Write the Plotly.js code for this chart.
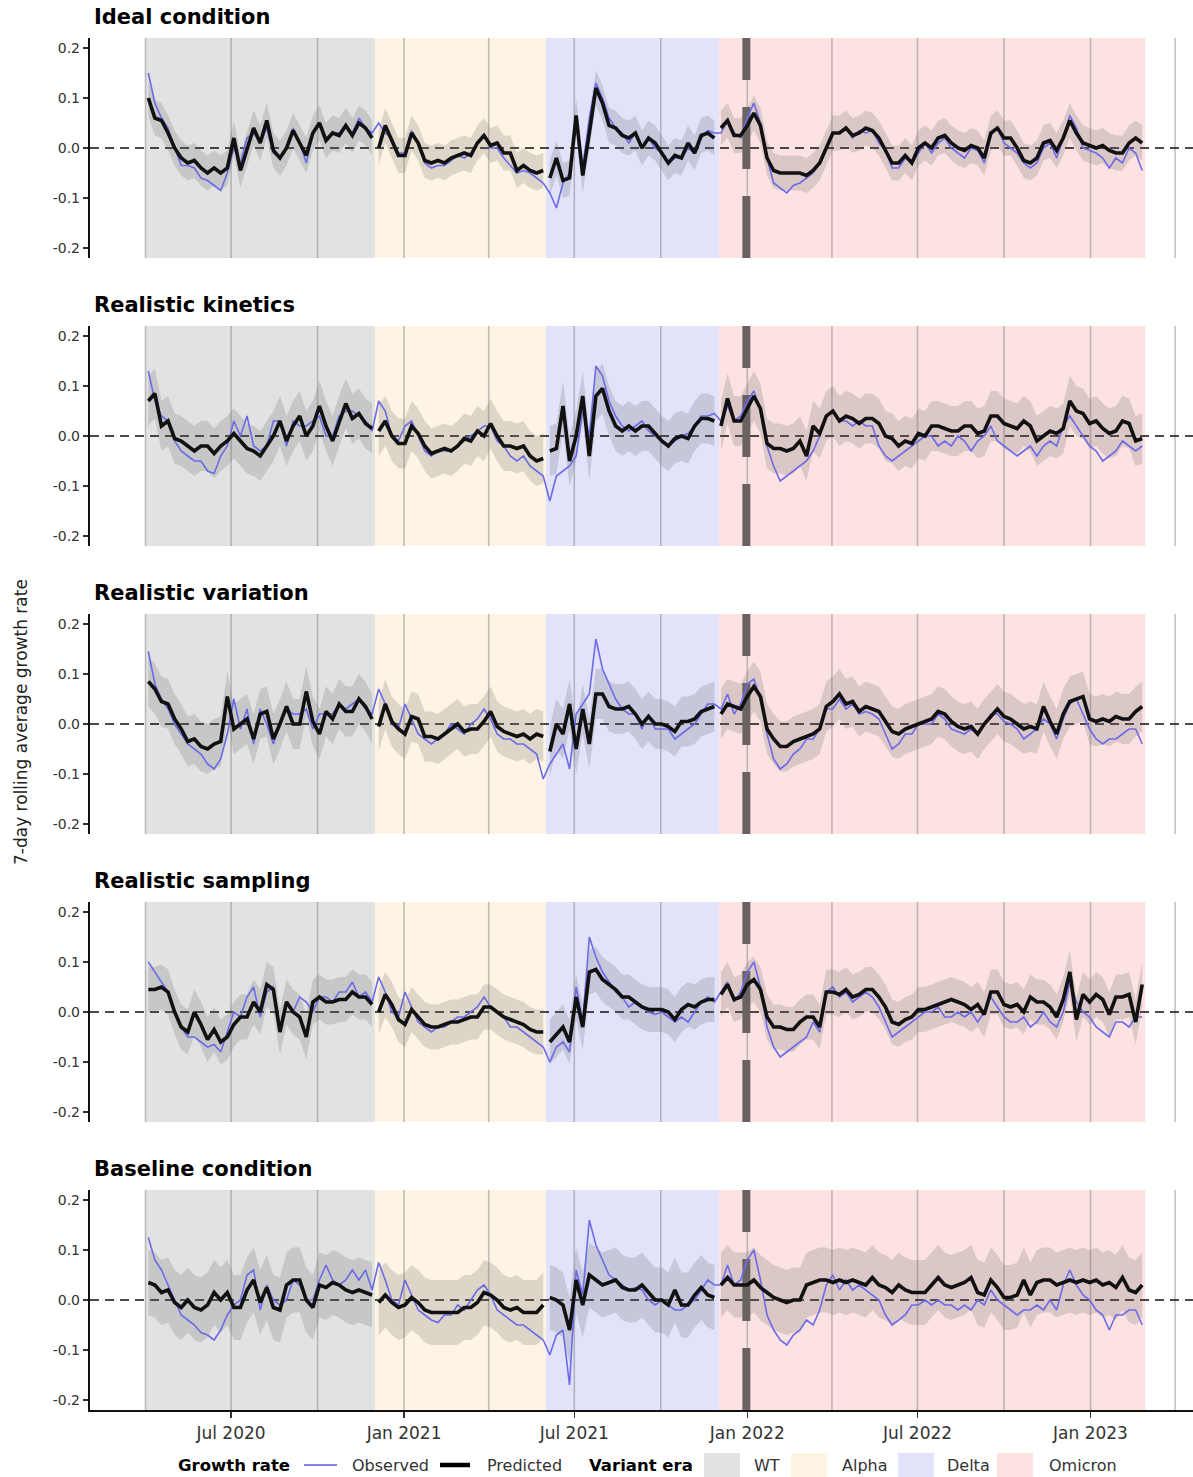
<!DOCTYPE html>
<html><head><meta charset="utf-8">
<script src="https://cdn.plot.ly/plotly-3.0.1.min.js"></script>
<style>html,body{margin:0;padding:0;background:#fff}#chart{width:1193px;height:1477px}</style>
</head><body><div id="chart"></div>
<script>
// ---------------- DATA ----------------
const startDate = '2020-04-04';   // first weekly sample
const stepDays = 7;

const panelTitles = ['Ideal condition', 'Realistic kinetics', 'Realistic variation', 'Realistic sampling', 'Baseline condition'];

const obsIdeal = [0.15,0.09,0.06,0.04,0.0,-0.035,-0.035,-0.04,-0.06,-0.065,
 -0.075,-0.085,-0.05,0.0,-0.03,0.02,0.03,0.01,0.04,-0.01,
 -0.02,0.0,0.04,0.01,-0.03,0.03,0.045,0.02,0.03,0.03,
 0.045,0.03,0.06,0.04,0.03,0.05,0.03,0.02,-0.01,-0.01,
 0.035,0.01,-0.03,-0.04,-0.035,-0.035,-0.025,-0.015,-0.02,-0.01,
 0.01,0.025,0.0,0.0,-0.02,-0.035,-0.05,-0.045,-0.05,-0.06,
 -0.07,-0.09,-0.12,-0.07,-0.05,0.05,-0.04,0.06,0.13,0.10,
 0.06,0.04,0.03,0.01,0.03,0.0,0.02,0.0,-0.01,-0.03,
 -0.02,-0.02,0.0,-0.01,0.02,0.035,0.03,0.03,0.055,0.03,
 0.02,0.06,0.09,0.05,-0.02,-0.07,-0.08,-0.09,-0.075,-0.07,
 -0.06,-0.05,-0.03,0.0,0.03,0.03,0.04,0.02,0.035,0.03,
 0.035,0.01,-0.005,-0.04,-0.04,-0.02,-0.03,-0.01,0.01,-0.01,
 0.01,0.02,0.0,-0.01,-0.02,0.0,-0.005,-0.03,0.025,0.04,
 0.01,0.0,-0.01,-0.03,-0.04,-0.03,0.0,0.01,-0.02,0.02,
 0.065,0.04,0.0,-0.005,-0.01,-0.02,-0.04,-0.02,-0.03,0.0,
 -0.01,-0.045];
const predIdeal = [0.10,0.06,0.055,0.03,0.0,-0.02,-0.03,-0.025,-0.04,-0.05,
 -0.04,-0.05,-0.04,0.02,-0.045,0.0,0.04,0.01,0.055,-0.005,
 -0.02,0.0,0.035,0.01,-0.015,0.03,0.05,0.015,0.03,0.025,
 0.045,0.025,0.05,0.04,0.02,0.0,0.045,0.015,-0.015,-0.015,
 0.03,0.01,-0.025,-0.03,-0.025,-0.03,-0.02,-0.015,-0.01,-0.015,
 0.01,0.025,0.005,0.01,-0.01,-0.01,-0.045,-0.035,-0.045,-0.05,
 -0.045,-0.06,-0.02,-0.065,-0.06,0.065,-0.055,0.03,0.12,0.09,
 0.045,0.04,0.025,0.02,0.03,0.0,0.02,0.01,-0.01,-0.03,
 -0.015,-0.02,0.01,-0.01,0.025,0.03,0.02,0.04,0.055,0.025,
 0.025,0.045,0.07,0.045,-0.02,-0.045,-0.05,-0.05,-0.05,-0.05,
 -0.055,-0.045,-0.03,0.0,0.03,0.03,0.04,0.025,0.03,0.04,
 0.035,0.02,-0.005,-0.03,-0.03,-0.015,-0.03,0.0,0.01,0.0,
 0.02,0.025,0.01,0.0,-0.005,0.005,0.0,-0.02,0.03,0.04,
 0.02,0.02,0.0,-0.025,-0.03,-0.02,0.01,0.015,-0.005,0.02,
 0.055,0.03,0.01,0.005,0.0,0.005,-0.005,-0.01,-0.01,0.01,
 0.02,0.01];

const obsKinetics = [0.13,0.07,0.04,0.03,-0.01,-0.03,-0.04,-0.05,-0.05,-0.07,
 -0.075,-0.04,-0.02,0.03,0.0,0.04,-0.02,-0.03,-0.02,0.03,
 0.03,-0.02,0.03,0.02,0.02,0.03,0.04,0.0,0.0,0.04,
 0.05,0.05,0.04,0.03,0.01,0.07,0.05,0.0,-0.01,0.02,
 0.03,0.0,-0.03,-0.04,-0.03,-0.03,-0.03,-0.02,-0.01,0.0,
 0.01,0.02,0.02,-0.01,-0.02,-0.04,-0.05,-0.04,-0.06,-0.07,
 -0.08,-0.13,-0.08,-0.07,-0.06,-0.04,0.05,0.0,0.14,0.12,
 0.07,0.04,0.02,0.01,0.02,0.03,0.01,0.0,-0.01,-0.02,
 -0.01,0.0,0.005,0.02,0.04,0.04,0.045,0.03,0.06,0.03,
 0.04,0.07,0.09,0.05,-0.02,-0.06,-0.09,-0.08,-0.07,-0.06,
 -0.05,-0.03,0.0,0.04,0.05,0.03,0.03,0.02,0.03,0.02,
 0.02,-0.02,-0.04,-0.05,-0.04,-0.03,-0.02,-0.01,0.0,0.0,
 -0.02,-0.01,-0.02,0.0,-0.01,-0.03,-0.01,0.0,0.02,-0.01,
 -0.02,-0.03,-0.04,-0.03,-0.02,-0.04,-0.02,-0.01,-0.02,0.02,
 0.04,0.02,0.0,-0.02,-0.03,-0.05,-0.04,-0.03,-0.01,-0.02,
 -0.03,-0.02];
const predKinetics = [0.07,0.085,0.02,0.03,-0.005,-0.01,-0.02,-0.03,-0.02,-0.02,
 -0.035,-0.02,-0.01,0.005,-0.01,-0.025,-0.03,-0.04,-0.02,0.0,
 0.03,-0.01,0.02,0.04,0.0,0.02,0.06,0.02,-0.01,0.03,
 0.065,0.035,0.045,0.025,0.015,0.01,0.03,0.0,-0.015,-0.015,
 0.02,0.005,-0.02,-0.035,-0.03,-0.025,-0.03,-0.02,-0.005,-0.01,
 0.01,0.0,0.025,0.0,-0.02,-0.02,-0.025,-0.02,-0.04,-0.05,
 -0.045,-0.03,-0.025,0.06,-0.05,0.0,0.08,-0.04,0.08,0.095,
 0.05,0.02,0.01,0.02,0.01,0.02,0.02,0.005,-0.01,-0.02,
 -0.005,0.0,-0.005,0.02,0.035,0.035,0.03,0.02,0.075,0.03,
 0.03,0.055,0.08,0.055,-0.015,-0.025,-0.025,-0.03,-0.025,-0.01,
 -0.04,0.02,0.005,0.04,0.05,0.03,0.04,0.035,0.025,0.035,
 0.035,0.025,0.0,-0.005,-0.02,-0.01,-0.015,0.005,0.0,0.02,
 0.02,0.015,0.01,0.01,0.02,0.02,0.005,0.01,0.04,0.04,
 0.025,0.02,0.015,0.03,0.02,-0.01,0.0,0.01,0.005,0.015,
 0.07,0.05,0.045,0.025,0.03,0.015,0.005,0.01,0.03,0.025,
 -0.01,-0.005];

const obsVariation = [0.145,0.08,0.05,0.03,0.0,-0.02,-0.04,-0.05,-0.06,-0.08,
 -0.09,-0.07,-0.02,0.05,-0.01,0.03,-0.04,0.03,0.0,-0.04,
 0.0,0.03,0.02,0.02,0.03,-0.01,0.02,0.02,0.02,0.04,
 0.03,0.04,0.05,0.03,0.02,0.07,0.04,0.0,-0.01,0.04,
 0.01,-0.02,-0.03,-0.04,-0.03,-0.02,0.0,-0.01,-0.02,0.0,
 0.01,0.03,0.01,-0.02,-0.03,-0.03,-0.04,-0.04,-0.05,-0.06,
 -0.11,-0.08,-0.06,-0.04,-0.09,0.02,0.04,0.06,0.17,0.11,
 0.08,0.05,0.03,0.02,0.02,-0.01,0.02,-0.01,-0.01,-0.01,
 -0.03,-0.02,-0.01,0.0,0.02,0.04,0.04,0.03,0.06,0.02,
 0.04,0.08,0.09,0.05,-0.02,-0.07,-0.09,-0.08,-0.06,-0.05,
 -0.03,-0.03,-0.01,0.03,0.03,0.05,0.03,0.04,0.02,0.025,
 0.02,0.01,-0.02,-0.05,-0.04,-0.02,-0.02,0.0,0.0,0.0,
 0.02,0.01,-0.01,-0.015,-0.02,-0.01,-0.02,0.0,0.02,0.02,
 0.005,0.0,-0.01,-0.03,-0.02,-0.01,0.01,0.0,-0.03,0.01,
 0.04,0.05,0.02,-0.01,-0.03,-0.04,-0.03,-0.03,-0.02,-0.01,
 -0.01,-0.04];
const predVariation = [0.085,0.07,0.045,0.04,0.01,-0.01,-0.035,-0.03,-0.045,-0.05,
 -0.04,-0.035,0.055,-0.01,0.0,0.01,-0.03,0.02,0.025,-0.03,
 0.0,0.035,0.0,0.0,0.065,0.005,-0.02,0.025,0.01,0.04,
 0.025,0.025,0.05,0.035,0.01,-0.005,0.04,0.005,-0.01,-0.02,
 0.015,0.01,-0.025,-0.025,-0.03,-0.02,-0.01,0.0,-0.015,-0.01,
 -0.01,0.005,0.025,-0.005,-0.015,-0.02,-0.025,-0.02,-0.03,-0.02,
 -0.025,-0.055,0.0,-0.02,0.04,-0.05,0.03,-0.04,0.06,0.06,
 0.035,0.03,0.03,0.035,0.02,0.0,0.015,0.0,0.0,-0.005,
 -0.015,0.005,0.005,0.01,0.025,0.03,0.035,0.02,0.04,0.035,
 0.03,0.055,0.075,0.055,-0.01,-0.03,-0.045,-0.045,-0.035,-0.03,
 -0.025,-0.02,-0.01,0.035,0.045,0.06,0.04,0.045,0.025,0.035,
 0.03,0.025,0.005,-0.015,-0.02,-0.01,-0.005,0.0,0.005,0.01,
 0.025,0.02,0.005,-0.005,-0.01,-0.005,-0.02,0.0,0.015,0.03,
 0.015,0.01,0.0,-0.01,-0.005,-0.01,0.035,0.005,-0.02,0.02,
 0.045,0.05,0.055,0.01,0.005,0.01,0.005,0.015,0.01,0.01,
 0.025,0.035];

const obsSampling = [0.10,0.08,0.06,0.04,0.0,-0.03,-0.05,-0.05,-0.06,-0.07,
 -0.065,-0.08,-0.04,0.0,-0.01,0.03,0.05,-0.01,0.04,0.05,
 -0.03,0.02,0.0,0.03,0.02,0.0,0.03,0.03,0.02,0.04,
 0.04,0.06,0.03,0.04,0.02,0.07,0.04,0.0,-0.01,0.04,
 0.01,-0.02,-0.03,-0.04,-0.03,-0.03,-0.02,-0.01,-0.01,0.0,
 0.01,0.03,0.01,0.0,-0.01,-0.03,-0.03,-0.04,-0.05,-0.06,
 -0.07,-0.1,-0.07,-0.06,-0.08,0.05,-0.02,0.15,0.11,0.08,
 0.06,0.04,0.03,0.01,0.02,0.01,0.0,-0.005,0.0,-0.01,
 -0.02,-0.01,-0.02,0.0,0.02,0.03,0.02,0.04,0.06,0.02,
 0.04,0.08,0.1,0.05,-0.03,-0.07,-0.09,-0.08,-0.07,-0.06,
 -0.05,-0.02,-0.04,0.04,0.05,0.03,0.04,0.02,0.03,0.04,
 0.03,0.01,-0.02,-0.05,-0.04,-0.03,-0.02,-0.01,0.0,0.0,
 0.01,-0.01,-0.01,0.0,-0.01,0.0,-0.02,0.0,0.03,0.01,
 -0.01,-0.02,-0.02,-0.01,-0.03,-0.02,0.0,-0.02,-0.03,0.0,
 0.06,0.02,0.0,-0.01,-0.03,-0.04,-0.05,-0.02,-0.02,-0.03,
 -0.01,-0.01];
const predSampling = [0.045,0.045,0.05,0.04,0.0,-0.03,-0.04,0.0,-0.025,-0.055,
 -0.035,-0.06,-0.05,-0.025,-0.01,-0.01,0.02,0.0,0.055,0.045,
 -0.04,0.02,0.0,-0.01,-0.05,0.02,0.03,0.02,0.02,0.025,
 0.025,0.04,0.03,0.03,0.015,0.0,0.035,0.015,-0.015,-0.025,
 0.005,-0.01,-0.025,-0.03,-0.03,-0.025,-0.02,-0.02,-0.015,-0.01,
 -0.01,0.01,0.01,0.0,-0.01,-0.015,-0.02,-0.025,-0.035,-0.04,
 -0.04,-0.06,-0.045,-0.03,-0.06,0.03,-0.03,0.08,0.085,0.065,
 0.055,0.045,0.03,0.03,0.02,0.01,0.005,0.005,0.005,0.0,
 -0.015,0.005,0.015,0.01,0.02,0.025,0.025,0.035,0.055,0.025,
 0.03,0.055,0.065,0.045,-0.01,-0.03,-0.03,-0.035,-0.035,-0.02,
 -0.01,-0.01,-0.03,0.04,0.04,0.035,0.045,0.03,0.035,0.045,
 0.045,0.03,0.01,-0.02,-0.025,-0.015,-0.01,0.005,0.005,0.01,
 0.015,0.02,0.025,0.02,0.015,0.005,0.015,-0.005,0.04,0.04,
 0.015,0.01,0.015,0.0,0.03,0.02,0.02,0.01,-0.01,0.025,
 0.08,-0.015,0.035,0.02,0.035,0.025,-0.005,0.03,0.03,0.035,
 -0.02,0.055];

const obsBaseline = [0.125,0.08,0.06,0.03,0.0,-0.03,-0.04,-0.05,-0.065,-0.07,
 -0.08,-0.06,-0.03,-0.01,0.0,0.05,0.06,-0.02,0.03,0.0,
 -0.01,0.0,0.04,0.03,0.0,0.0,0.04,0.07,0.04,0.03,
 0.04,0.06,0.04,0.06,0.02,0.075,0.04,0.0,-0.01,0.04,
 0.01,-0.02,-0.03,-0.04,-0.045,-0.03,-0.03,-0.01,-0.02,0.0,
 0.02,0.03,0.01,-0.02,-0.03,-0.04,-0.05,-0.05,-0.06,-0.07,
 -0.08,-0.11,-0.07,-0.06,-0.17,0.06,0.01,0.16,0.11,0.08,
 0.05,0.04,0.03,0.02,0.025,0.02,0.0,-0.01,0.0,-0.01,
 -0.02,-0.02,-0.01,0.0,0.02,0.04,0.03,0.03,0.07,0.03,
 0.04,0.08,0.1,0.04,-0.03,-0.06,-0.08,-0.09,-0.07,-0.06,
 -0.04,-0.05,-0.02,0.03,0.05,0.02,0.04,0.02,0.03,0.02,
 0.01,0.0,-0.03,-0.05,-0.04,-0.03,-0.01,-0.01,0.0,-0.01,
 0.0,-0.01,-0.01,-0.02,-0.01,-0.02,0.0,-0.01,0.02,0.0,
 -0.01,-0.02,-0.03,-0.02,-0.02,-0.01,-0.02,0.0,-0.02,0.03,
 0.06,0.03,0.01,0.0,-0.02,-0.03,-0.06,-0.03,-0.03,-0.02,
 -0.02,-0.05];
const predBaseline = [0.035,0.03,0.015,0.02,-0.005,-0.015,0.0,-0.015,-0.02,-0.01,
 0.015,0.0,0.015,-0.015,-0.015,0.02,0.04,-0.005,0.025,-0.015,
 -0.02,0.03,0.04,0.04,0.0,-0.015,0.03,0.025,0.035,0.03,
 0.02,0.015,0.02,0.015,0.01,-0.005,0.01,-0.005,-0.015,-0.01,
 0.005,-0.005,-0.02,-0.025,-0.025,-0.025,-0.025,-0.025,-0.015,-0.015,
 -0.005,0.015,0.01,0.0,-0.015,-0.02,-0.015,-0.025,-0.025,-0.025,
 -0.01,0.005,0.0,-0.01,-0.06,0.04,-0.01,0.05,0.04,0.03,
 0.035,0.04,0.025,0.02,0.02,0.03,0.015,0.0,0.0,-0.01,
 0.02,-0.01,-0.01,0.01,0.025,0.01,0.005,0.03,0.045,0.03,
 0.03,0.03,0.04,0.025,0.015,0.005,0.0,-0.005,0.0,0.0,
 0.03,0.035,0.04,0.04,0.035,0.04,0.035,0.04,0.035,0.03,
 0.045,0.03,0.025,0.015,0.03,0.02,0.015,0.015,0.015,0.03,
 0.045,0.03,0.025,0.03,0.035,0.045,0.015,0.01,0.04,0.025,
 0.005,0.005,0.01,0.04,0.01,0.035,0.04,0.04,0.03,0.035,
 0.04,0.035,0.04,0.035,0.04,0.03,0.035,0.025,0.045,0.02,
 0.015,0.03];

const ribbonHalfWidth = [0.035, 0.05, 0.05, 0.045, 0.065];

const eraNames  = ['WT', 'Alpha', 'Delta', 'Omicron'];
const eraStarts = ['2020-04-01', '2020-12-01', '2021-06-01', '2021-12-02'];
const eraEnds   = ['2020-12-01', '2021-06-01', '2021-12-02', '2023-02-28'];
const eraColors = ['#e2e2e2', '#fdf4e3', '#e2e2fb', '#fde2e2'];

const quarterLines = ['2020-04-01','2020-07-01','2020-10-01','2021-01-01','2021-04-01','2021-07-01',
  '2021-10-01','2022-01-01','2022-04-01','2022-07-01','2022-10-01','2023-01-01','2023-04-01'];
const omicronMarker = '2021-12-31';

const xTickVals = ['2020-07-01','2021-01-01','2021-07-01','2022-01-01','2022-07-01','2023-01-01'];
const xTickText = ['Jul 2020','Jan 2021','Jul 2021','Jan 2022','Jul 2022','Jan 2023'];
const yTickVals = [-0.2, -0.1, 0, 0.1, 0.2];
const yTickText = ['-0.2', '-0.1', '0.0', '0.1', '0.2'];

const legendGrowthLabels = ['Observed', 'Predicted'];

// ---------------- BUILD ----------------
const obsSeries  = [obsIdeal, obsKinetics, obsVariation, obsSampling, obsBaseline];
const predSeries = [predIdeal, predKinetics, predVariation, predSampling, predBaseline];

function makeDates(n) {
  const p = startDate.split('-').map(Number);
  const t0 = Date.UTC(p[0], p[1] - 1, p[2]);
  const out = [];
  for (let i = 0; i < n; i++) out.push(new Date(t0 + i * stepDays * 86400000).toISOString().slice(0, 10));
  return out;
}
function eraOf(d) {
  for (let e = eraStarts.length - 1; e >= 0; e--) if (d >= eraStarts[e]) return e;
  return 0;
}

const W = 1193, H = 1477, L = 90;
const PW = W - L;
const panelTop0 = 38, panelH = 220, panelStep = 288;
const py = px => 1 - px / H;          // pixel row -> paper y
const pxX = px => (px - L) / PW;      // pixel column -> paper x

const FONT = 'DejaVu Sans, Liberation Sans, Arial, sans-serif';
const OBS_COLOR = '#6b6be8';
const PRED_COLOR = '#111111';
const RIBBON = 'rgba(105,105,105,0.22)';

const traces = [], shapes = [], annotations = [];
const layout = {
  width: W, height: H,
  margin: {l: L, r: 0, t: 0, b: 0},
  paper_bgcolor: '#ffffff', plot_bgcolor: 'rgba(0,0,0,0)',
  showlegend: false,
  font: {family: FONT, color: '#333'},
  xaxis: {
    type: 'date', range: ['2020-02-02', '2023-04-20'], domain: [0, 1], anchor: 'y5',
    tickvals: xTickVals, ticktext: xTickText, ticks: 'outside', ticklen: 6, tickwidth: 1.5, tickcolor: '#333',
    showline: true, linecolor: '#111', linewidth: 2.2, showgrid: false, zeroline: false,
    tickfont: {family: FONT, size: 17, color: '#333'}, automargin: false
  }
};

const dates = makeDates(obsSeries[0].length);

predSeries.forEach((pred, i) => {
  const yName = i === 0 ? 'y' : 'y' + (i + 1);
  const yKey = i === 0 ? 'yaxis' : 'yaxis' + (i + 1);
  const top = panelTop0 + i * panelStep, bot = top + panelH;
  layout[yKey] = {
    domain: [py(bot), py(top)], range: [-0.22, 0.22], anchor: 'x',
    tickvals: yTickVals, ticktext: yTickText, ticks: 'outside', ticklen: 5, tickwidth: 1.5, tickcolor: '#333',
    showline: true, linecolor: '#111', linewidth: 2.2, showgrid: false, zeroline: false,
    tickfont: {family: FONT, size: 14, color: '#333'}, automargin: false, fixedrange: true
  };
  const domRef = yName + ' domain';

  // era backgrounds
  eraNames.forEach((nm, e) => shapes.push({type: 'rect', layer: 'below', xref: 'x', yref: domRef,
    x0: eraStarts[e], x1: eraEnds[e], y0: 0, y1: 1, fillcolor: eraColors[e], line: {width: 0}}));
  // quarterly reference lines
  quarterLines.forEach(d => shapes.push({type: 'line', layer: 'below', xref: 'x', yref: domRef,
    x0: d, x1: d, y0: 0, y1: 1, line: {color: 'rgba(120,120,120,0.45)', width: 1.6}}));
  // zero line
  shapes.push({type: 'line', layer: 'below', xref: 'paper', yref: yName, x0: 0, x1: 1, y0: 0, y1: 0,
    line: {color: '#111', width: 1.6, dash: '9px,6px'}});
  // omicron marker (drawn from bottom upward)
  shapes.push({type: 'line', layer: 'below', xref: 'x', yref: domRef, x0: omicronMarker, x1: omicronMarker,
    y0: 0, y1: 1, line: {color: '#6b6262', width: 8, dash: '62px,27px'}});

  // ribbons by era
  const half = ribbonHalfWidth[i];
  eraNames.forEach((nm, e) => {
    const idx = dates.map((d, j) => j).filter(j => eraOf(dates[j]) === e);
    if (!idx.length) return;
    const xs = idx.map(j => dates[j]);
    const up = idx.map(j => pred[j] + half);
    const lo = idx.map(j => pred[j] - half);
    traces.push({x: xs.concat(xs.slice().reverse()), y: up.concat(lo.reverse()), xaxis: 'x', yaxis: yName,
      type: 'scatter', mode: 'lines', fill: 'toself', fillcolor: RIBBON, line: {width: 0}, hoverinfo: 'skip'});
  });
  // observed
  traces.push({x: dates, y: obsSeries[i], xaxis: 'x', yaxis: yName, type: 'scatter', mode: 'lines',
    line: {color: OBS_COLOR, width: 1.6}, name: legendGrowthLabels[0]});
  // predicted by era
  eraNames.forEach((nm, e) => {
    const idx = dates.map((d, j) => j).filter(j => eraOf(dates[j]) === e);
    if (!idx.length) return;
    traces.push({x: idx.map(j => dates[j]), y: idx.map(j => pred[j]), xaxis: 'x', yaxis: yName,
      type: 'scatter', mode: 'lines', line: {color: PRED_COLOR, width: 3.6}, name: legendGrowthLabels[1]});
  });

  // panel title
  annotations.push({xref: 'paper', yref: 'paper', x: pxX(92), y: py(17 + i * panelStep), xanchor: 'left', yanchor: 'middle',
    text: '<b>' + panelTitles[i] + '</b>', showarrow: false, font: {family: FONT, size: 21, color: '#000'}});
});

// y-axis title
annotations.push({xref: 'paper', yref: 'paper', x: pxX(21), y: py(722), xanchor: 'center', yanchor: 'middle',
  text: '7-day rolling average growth rate', textangle: -90, showarrow: false, font: {family: FONT, size: 17, color: '#222'}});

// legend (manual)
const legY = py(1465);
const legText = (txt, px, bold, size) => annotations.push({xref: 'paper', yref: 'paper', x: pxX(px), y: legY,
  xanchor: 'left', yanchor: 'middle', showarrow: false, text: bold ? '<b>' + txt + '</b>' : txt,
  font: {family: FONT, size: size, color: bold ? '#000' : '#333'}});
legText('Growth rate', 176, true, 16.5);
shapes.push({type: 'line', xref: 'paper', yref: 'paper', x0: pxX(304), x1: pxX(337), y0: legY, y1: legY,
  line: {color: '#8585f2', width: 2.2}});
legText(legendGrowthLabels[0], 350, false, 16);
shapes.push({type: 'line', xref: 'paper', yref: 'paper', x0: pxX(440), x1: pxX(470), y0: legY, y1: legY,
  line: {color: '#000', width: 4.5}});
legText(legendGrowthLabels[1], 485, false, 16);
legText('Variant era', 587, true, 16.5);
const boxX = [704, 791, 898, 997];
const labX = [752, 840, 945, 1047];
eraNames.forEach((nm, e) => {
  shapes.push({type: 'rect', xref: 'paper', yref: 'paper', x0: pxX(boxX[e]), x1: pxX(boxX[e] + 36),
    y0: py(1478), y1: py(1453), fillcolor: eraColors[e], line: {width: 0}});
  legText(nm, labX[e], false, 16);
});

layout.shapes = shapes;
layout.annotations = annotations;

Plotly.newPlot('chart', traces, layout, {staticPlot: true, displayModeBar: false});
</script>
</body></html>
